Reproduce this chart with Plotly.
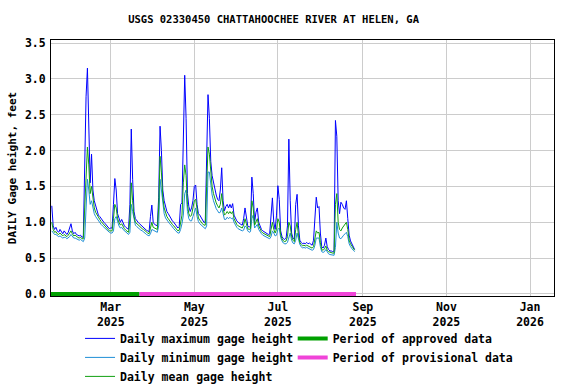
import pandas as pd
import plotly.graph_objects as go

# daily gage height, feet, starting 2025-01-17
start_date = "2025-01-17"

gage_max = [
    1.23, 0.95, 0.90, 0.93, 0.88, 0.86, 0.90, 0.87, 0.84, 0.88,
    0.85, 0.83, 0.86, 0.92, 0.98, 0.88, 0.84, 0.86, 0.83, 0.82,
    0.81, 0.82, 0.79, 0.80, 1.71, 2.75, 3.15, 2.30, 1.55, 1.95,
    1.45, 1.30, 1.22, 1.15, 1.10, 1.08, 1.05, 1.03, 1.00, 0.98,
    0.96, 0.93, 0.91, 0.92, 0.92, 1.25, 1.61, 1.45, 1.12, 1.06,
    1.00, 1.04, 0.98, 0.95, 0.93, 0.91, 0.90, 1.25, 2.30, 1.60,
    1.15, 1.05, 1.02, 1.00, 0.98, 0.96, 0.95, 0.93, 0.91, 0.89,
    0.88, 0.87, 1.08, 1.24, 1.00, 0.97, 0.96, 0.95, 1.35, 2.34,
    2.00, 1.45, 1.30, 1.20, 1.15, 1.12, 1.08, 1.05, 1.02, 1.00,
    0.97, 0.94, 0.92, 0.94, 1.25, 1.27, 2.30, 3.05, 2.45,
    1.40, 1.22, 1.15, 1.20, 1.30, 1.50, 1.52, 1.25, 1.12, 1.10,
    1.06, 1.03, 1.00, 1.00, 1.90, 2.78, 2.45, 1.85, 1.65, 1.55,
    1.45, 1.38, 1.32, 1.30, 1.45, 1.76, 1.30, 1.16, 1.22, 1.25,
    1.20, 1.25, 1.20, 1.26, 1.10, 1.05, 1.02, 1.00, 0.98, 0.97,
    0.96, 1.05, 1.20, 1.05, 0.95, 0.93, 0.95, 1.63, 1.40, 1.00,
    1.14, 1.20, 1.00, 0.95, 0.90, 0.88, 0.87, 0.86, 0.85, 0.83,
    0.84, 1.07, 1.34, 1.00, 0.90, 1.10, 1.51, 1.32, 0.88, 0.80,
    0.77, 0.76, 0.78, 0.95, 2.16, 1.30, 0.85, 0.78, 0.76, 1.25,
    1.39, 0.95, 0.75, 0.72, 0.70, 0.71, 0.70, 0.72, 0.70, 0.71,
    0.69, 0.68, 0.75, 1.11, 1.35, 1.20, 1.22, 0.85, 0.66, 0.64,
    0.68, 0.78, 0.66, 0.62, 0.60, 0.60, 0.59, 0.60, 2.42, 2.20,
    1.30, 1.12, 1.28, 1.25, 1.20, 1.18, 1.30, 1.05, 0.82, 0.74,
    0.70, 0.66, 0.62,
]

gage_min = [
    0.88, 0.86, 0.83, 0.83, 0.81, 0.80, 0.81, 0.80, 0.78, 0.79,
    0.79, 0.77, 0.78, 0.80, 0.83, 0.80, 0.78, 0.78, 0.77, 0.76,
    0.75, 0.76, 0.74, 0.73, 0.78, 1.30, 1.60, 1.45, 1.25, 1.30,
    1.18, 1.12, 1.08, 1.05, 1.02, 1.00, 0.97, 0.95, 0.93, 0.91,
    0.89, 0.87, 0.86, 0.85, 0.85, 0.88, 1.05, 1.08, 0.99, 0.95,
    0.92, 0.93, 0.90, 0.88, 0.86, 0.85, 0.83, 0.86, 1.25, 1.15,
    1.02, 0.96, 0.94, 0.92, 0.90, 0.89, 0.88, 0.87, 0.85, 0.83,
    0.82, 0.81, 0.84, 0.90, 0.89, 0.88, 0.87, 0.86, 0.95, 1.60,
    1.45, 1.25, 1.12, 1.06, 1.03, 1.00, 0.98, 0.96, 0.93, 0.91,
    0.89, 0.87, 0.85, 0.85, 0.90, 0.98, 1.10, 1.40, 1.45,
    1.15, 1.05, 1.02, 1.02, 1.08, 1.15, 1.20, 1.08, 1.01, 0.98,
    0.96, 0.94, 0.92, 0.91, 0.95, 1.70, 1.70, 1.50, 1.38, 1.30,
    1.24, 1.19, 1.16, 1.13, 1.14, 1.20, 1.12, 1.04, 1.04, 1.07,
    1.05, 1.07, 1.05, 1.06, 1.00, 0.96, 0.93, 0.91, 0.90, 0.89,
    0.88, 0.89, 0.95, 0.93, 0.88, 0.86, 0.87, 1.05, 1.10, 0.92,
    0.94, 0.97, 0.90, 0.86, 0.84, 0.82, 0.81, 0.80, 0.79, 0.77,
    0.77, 0.80, 0.88, 0.85, 0.81, 0.82, 0.90, 0.92, 0.79, 0.74,
    0.71, 0.70, 0.70, 0.72, 0.80, 0.85, 0.75, 0.71, 0.70, 0.75,
    0.85, 0.76, 0.69, 0.66, 0.64, 0.65, 0.64, 0.65, 0.64, 0.64,
    0.62, 0.61, 0.62, 0.68, 0.78, 0.78, 0.78, 0.66, 0.59, 0.58,
    0.59, 0.62, 0.58, 0.56, 0.55, 0.55, 0.54, 0.54, 0.65, 1.00,
    0.85, 0.78, 0.77, 0.80, 0.82, 0.84, 0.86, 0.80, 0.70, 0.66,
    0.63, 0.61, 0.59,
]

gage_mean = [
    1.00, 0.90, 0.86, 0.87, 0.84, 0.83, 0.85, 0.83, 0.81, 0.83,
    0.82, 0.80, 0.82, 0.85, 0.88, 0.84, 0.81, 0.82, 0.80, 0.79,
    0.78, 0.79, 0.77, 0.77, 1.20, 1.75, 2.05, 1.80, 1.40, 1.50,
    1.30, 1.20, 1.14, 1.10, 1.06, 1.04, 1.01, 0.99, 0.96, 0.94,
    0.92, 0.90, 0.88, 0.88, 0.88, 1.05, 1.25, 1.20, 1.05, 1.00,
    0.96, 0.98, 0.94, 0.91, 0.89, 0.88, 0.86, 1.05, 1.55, 1.30,
    1.08, 1.00, 0.98, 0.96, 0.94, 0.92, 0.91, 0.90, 0.88, 0.86,
    0.85, 0.84, 0.95, 1.00, 0.93, 0.92, 0.91, 0.90, 1.20, 1.92,
    1.70, 1.35, 1.20, 1.12, 1.08, 1.05, 1.02, 1.00, 0.97, 0.95,
    0.93, 0.90, 0.88, 0.89, 0.98, 1.10, 1.55, 1.80, 1.65,
    1.25, 1.12, 1.08, 1.10, 1.20, 1.30, 1.32, 1.15, 1.06, 1.03,
    1.00, 0.98, 0.96, 0.96, 1.50, 2.05, 1.95, 1.65, 1.50, 1.40,
    1.33, 1.27, 1.23, 1.20, 1.25, 1.40, 1.20, 1.10, 1.12, 1.15,
    1.12, 1.15, 1.12, 1.15, 1.05, 1.00, 0.97, 0.95, 0.94, 0.93,
    0.92, 0.96, 1.05, 0.98, 0.91, 0.90, 0.91, 1.30, 1.20, 0.96,
    1.02, 1.05, 0.95, 0.90, 0.87, 0.85, 0.84, 0.83, 0.82, 0.80,
    0.80, 0.90, 1.00, 0.90, 0.85, 0.90, 1.05, 1.00, 0.83, 0.77,
    0.74, 0.73, 0.74, 0.80, 1.00, 0.95, 0.80, 0.75, 0.73, 0.90,
    1.00, 0.82, 0.72, 0.69, 0.67, 0.68, 0.67, 0.68, 0.67, 0.67,
    0.65, 0.64, 0.66, 0.80, 0.88, 0.85, 0.86, 0.72, 0.62, 0.61,
    0.63, 0.67, 0.61, 0.59, 0.58, 0.57, 0.57, 0.57, 1.25, 1.40,
    1.00, 0.90, 0.88, 0.92, 0.95, 0.98, 1.00, 0.90, 0.75, 0.70,
    0.67, 0.64, 0.61,
]

if not (len(gage_max) == len(gage_min) == len(gage_mean)):
    raise ValueError("series lengths differ: %d %d %d" % (len(gage_max), len(gage_min), len(gage_mean)))

dates = pd.date_range(start_date, periods=len(gage_max), freq="D")

approved_dates = ["2025-01-16", "2025-03-22"]
provisional_dates = ["2025-03-22", "2025-08-27"]

font_family = "DejaVu Sans Mono"

fig = go.Figure()

fig.add_trace(go.Scatter(x=dates, y=gage_max, mode="lines", name="Daily maximum gage height",
                         line=dict(color="#0000ff", width=1), legend="legend"))
fig.add_trace(go.Scatter(x=dates, y=gage_min, mode="lines", name="Daily minimum gage height",
                         line=dict(color="#1f8fd6", width=1), legend="legend"))
fig.add_trace(go.Scatter(x=dates, y=gage_mean, mode="lines", name="Daily mean gage height",
                         line=dict(color="#11a011", width=1), legend="legend"))
fig.add_trace(go.Scatter(x=approved_dates, y=[0, 0], mode="lines", name="Period of approved data",
                         line=dict(color="#00a000", width=4), legend="legend2"))
fig.add_trace(go.Scatter(x=provisional_dates, y=[0, 0], mode="lines", name="Period of provisional data",
                         line=dict(color="#f044d8", width=4), legend="legend2"))

fig.update_layout(
    width=576,
    height=384,
    margin=dict(l=51, r=22, t=40, b=88, autoexpand=False),
    paper_bgcolor="white",
    plot_bgcolor="white",
    font=dict(family=font_family, size=11.5, color="black", weight="bold"),
    title=dict(text="USGS 02330450 CHATTAHOOCHEE RIVER AT HELEN, GA",
               xref="container", yref="container",
               x=0.475, xanchor="center", y=1 - 19 / 384, yanchor="middle",
               font=dict(family=font_family, size=10.5, color="black", weight="bold")),
    xaxis=dict(
        type="date",
        range=["2025-01-16 10:00", "2026-01-18 12:00"],
        tick0="2025-01-01",
        dtick="M2",
        tickformat="%b<br>%Y",
        showgrid=True,
        gridcolor="#cccccc",
        gridwidth=1,
        showline=True,
        linecolor="black",
        linewidth=1,
        mirror=True,
        ticks="",
        zeroline=False,
        automargin=False,
    ),
    yaxis=dict(
        range=[-0.028, 3.542],
        tick0=0,
        dtick=0.5,
        tickformat=".1f",
        showgrid=True,
        gridcolor="#cccccc",
        gridwidth=1,
        showline=True,
        linecolor="black",
        linewidth=1,
        mirror=True,
        ticks="",
        ticklabelstandoff=2,
        zeroline=False,
        automargin=False,
        title=dict(text="DAILY Gage height, feet", standoff=6,
                   font=dict(family=font_family, size=11, color="black", weight="bold")),
    ),
    legend=dict(x=0.0577, xanchor="left", y=-0.109, yanchor="top", orientation="v",
                bgcolor="rgba(0,0,0,0)", font=dict(size=11.5)),
    legend2=dict(x=0.4805, xanchor="left", y=-0.109, yanchor="top", orientation="v",
                 bgcolor="rgba(0,0,0,0)", font=dict(size=11.5)),
)

# drop the default page margin so the 576x384 figure fills the window
fig.write_html("out.html", config={"displayModeBar": False},
               post_script="document.body.style.margin = '0';")
